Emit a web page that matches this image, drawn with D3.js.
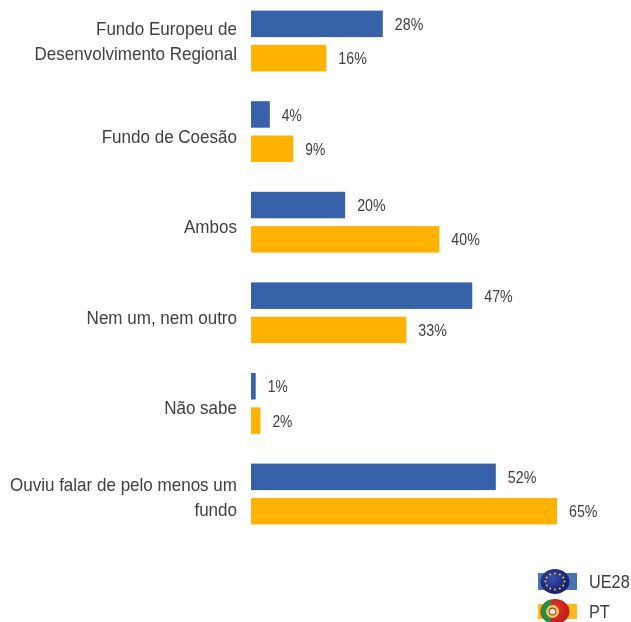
<!DOCTYPE html>
<html><head><meta charset="utf-8">
<script src="https://cdnjs.cloudflare.com/ajax/libs/d3/7.8.5/d3.min.js"></script>
<style>html,body{margin:0;padding:0;background:#fff;overflow:hidden}svg{display:block}text{font-family:"Liberation Sans",Arial,sans-serif;fill:#404040}</style>
</head><body><svg id="c" width="631" height="622"></svg>
<script>
const categories=[["Fundo Europeu de","Desenvolvimento Regional"],["Fundo de Coesão"],["Ambos"],["Nem um, nem outro"],["Não sabe"],["Ouviu falar de pelo menos um","fundo"]];
const seriesNames=["UE28","PT"];
const ue28=[28,4,20,47,1,52];
const pt=[16,9,40,33,2,65];
const colors=["#3762AA","#FFB200"];
const legendColors=["#4a72b4","#FFB81C"];

const svg=d3.select("#c");
const x=d3.scaleLinear().domain([0,65]).range([251,557]);
const y0=d3.scaleBand().domain(d3.range(categories.length)).range([-4.3,539.3]);
const y1=d3.scaleBand().domain(seriesNames).range([14.9,75.7]).paddingInner(0.227);
const series=[ue28,pt];
seriesNames.forEach((s,si)=>{
  const g=svg.append("g");
  g.selectAll("rect").data(series[si]).join("rect")
   .attr("x",x(0)).attr("y",(d,i)=>y0(i)+y1(s))
   .attr("width",d=>x(d)-x(0)).attr("height",y1.bandwidth()).attr("fill",colors[si]);
  g.selectAll("text").data(series[si]).join("text")
   .attr("x",d=>x(d)+12).attr("y",(d,i)=>y0(i)+y1(s)+y1.bandwidth()/2+0.5)
   .attr("dy","0.35em").attr("font-size",16)
   .attr("textLength",d=>d>=10?28.5:20).attr("lengthAdjust","spacingAndGlyphs")
   .text(d=>d+"%");
});
// label baselines: single-line labels sit a little below their group centre
const labels=svg.append("g");
categories.forEach((lines,i)=>{
  const cy=y0(i)+y0.bandwidth()/2;
  const nudge=lines.length===1?11:(i===0?6.5:9.5);
  const t=labels.append("text").attr("text-anchor","end").attr("font-size",18.5);
  lines.forEach((l,k)=>{
    const ts=t.append("tspan").attr("x",237).attr("y",cy+(k-(lines.length-1)/2)*24.3+nudge).text(l);
    ts.attr("textLength",ts.node().getComputedTextLength()*0.92).attr("lengthAdjust","spacingAndGlyphs");
  });
});
// legend
const defs=svg.append("defs");
const eg=defs.append("radialGradient").attr("id","eu").attr("cx","42%").attr("cy","38%");
eg.append("stop").attr("offset","0").attr("stop-color","#3a50b4");eg.append("stop").attr("offset","1").attr("stop-color","#1a2470");
const pg=defs.append("radialGradient").attr("id","prt").attr("cx","45%").attr("cy","40%");
pg.append("stop").attr("offset","0").attr("stop-color","#ee3a2a");pg.append("stop").attr("offset","1").attr("stop-color","#c0201a");
const legY=[581.5,611.5];
const legH=[17,15];
seriesNames.forEach((s,i)=>{
  svg.append("rect").attr("x",538).attr("y",legY[i]-legH[i]/2).attr("width",39).attr("height",legH[i]).attr("fill",legendColors[i]);
  svg.append("text").attr("transform",`translate(589,${legY[i]}) scale(0.88,1)`).attr("dy","0.35em").attr("font-size",18.5).text(s);
});
const cx=555,rx=14.5,ry=12.5;
svg.append("ellipse").attr("cx",cx).attr("cy",legY[0]).attr("rx",rx).attr("ry",ry).attr("fill","url(#eu)");
svg.selectAll(".star").data(d3.range(12)).join("circle").attr("class","star")
  .attr("cx",d=>cx+9.5*Math.cos(d*Math.PI/6)).attr("cy",d=>legY[0]+8*Math.sin(d*Math.PI/6)).attr("r",1).attr("fill","#e3cf45");
svg.append("ellipse").attr("cx",cx).attr("cy",legY[1]).attr("rx",rx).attr("ry",ry).attr("fill","url(#prt)");
svg.append("clipPath").attr("id","pc").append("ellipse").attr("cx",cx).attr("cy",legY[1]).attr("rx",rx).attr("ry",ry);
svg.append("rect").attr("x",cx-rx).attr("y",legY[1]-ry).attr("width",10.5).attr("height",2*ry).attr("fill","#2f8a3c").attr("clip-path","url(#pc)");
svg.append("circle").attr("cx",cx-2.5).attr("cy",legY[1]).attr("r",6.5).attr("fill","#e3cf6a");
svg.append("circle").attr("cx",cx-2.5).attr("cy",legY[1]).attr("r",3.4).attr("fill","#f2ece0").attr("stroke","#c0392b").attr("stroke-width",1.1);
svg.style("filter","blur(0.45px)");
</script></body></html>
